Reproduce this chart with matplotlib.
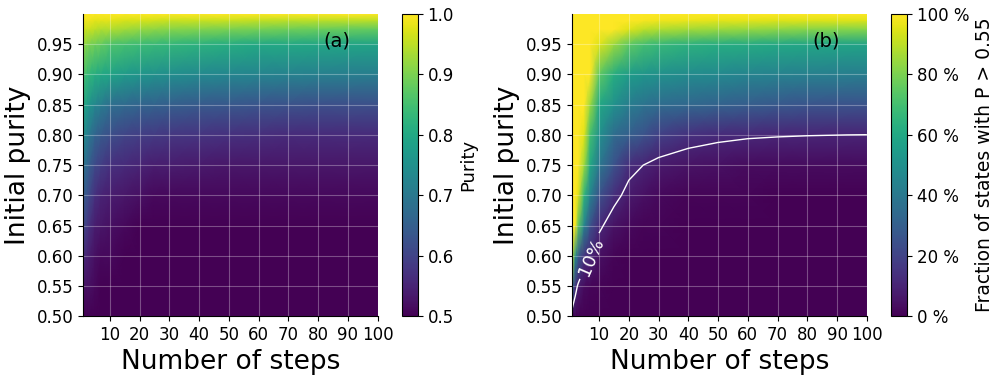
import numpy as np
import matplotlib
matplotlib.use("Agg")
import matplotlib.pyplot as plt

# grid (coarse), rendered with gouraud shading
steps = [1, 2, 3, 5, 7, 10, 15, 20, 25, 30, 40, 50, 60, 70, 80, 100]
init_purity = [0.50, 0.55, 0.60, 0.65, 0.70, 0.75, 0.80, 0.85, 0.90, 0.95, 0.975, 0.99, 1.0]

# panel (a): final purity
purity = [
    [0.50, 0.50, 0.50, 0.50, 0.50, 0.50, 0.50, 0.50, 0.50, 0.50, 0.50, 0.50, 0.50, 0.50, 0.50, 0.50],
    [0.53, 0.52, 0.52, 0.51, 0.50, 0.50, 0.50, 0.50, 0.50, 0.50, 0.50, 0.50, 0.50, 0.50, 0.50, 0.50],
    [0.57, 0.55, 0.54, 0.52, 0.51, 0.51, 0.50, 0.50, 0.50, 0.50, 0.50, 0.50, 0.50, 0.50, 0.50, 0.50],
    [0.61, 0.59, 0.57, 0.54, 0.53, 0.52, 0.51, 0.50, 0.50, 0.50, 0.50, 0.50, 0.50, 0.50, 0.50, 0.50],
    [0.65, 0.63, 0.61, 0.57, 0.55, 0.54, 0.53, 0.52, 0.51, 0.51, 0.51, 0.51, 0.51, 0.51, 0.51, 0.51],
    [0.70, 0.67, 0.65, 0.61, 0.59, 0.57, 0.56, 0.55, 0.54, 0.54, 0.535, 0.53, 0.53, 0.53, 0.53, 0.53],
    [0.76, 0.72, 0.70, 0.66, 0.64, 0.62, 0.60, 0.59, 0.585, 0.58, 0.575, 0.57, 0.565, 0.56, 0.56, 0.56],
    [0.80, 0.78, 0.76, 0.73, 0.71, 0.68, 0.67, 0.66, 0.655, 0.65, 0.64, 0.635, 0.63, 0.625, 0.62, 0.62],
    [0.86, 0.84, 0.83, 0.81, 0.80, 0.79, 0.77, 0.76, 0.75, 0.745, 0.735, 0.73, 0.725, 0.72, 0.715, 0.71],
    [0.92, 0.91, 0.90, 0.89, 0.88, 0.86, 0.85, 0.84, 0.835, 0.83, 0.82, 0.81, 0.80, 0.80, 0.795, 0.79],
    [0.97, 0.96, 0.96, 0.95, 0.94, 0.94, 0.93, 0.92, 0.915, 0.91, 0.905, 0.90, 0.895, 0.89, 0.885, 0.88],
    [0.99, 0.99, 0.99, 0.98, 0.98, 0.98, 0.97, 0.97, 0.965, 0.96, 0.96, 0.96, 0.955, 0.95, 0.95, 0.95],
    [1.00, 1.00, 1.00, 1.00, 1.00, 1.00, 1.00, 1.00, 1.00, 1.00, 1.00, 1.00, 1.00, 1.00, 1.00, 1.00],
]

# panel (b): fraction of states with P > 0.55, in %
fraction = [
    [0, 0, 0, 0, 0, 0, 0, 0, 0, 0, 0, 0, 0, 0, 0, 0],
    [38, 15, 8, 3, 1.5, 1, 0, 0, 0, 0, 0, 0, 0, 0, 0, 0],
    [90, 50, 30, 15, 11, 4, 1, 0, 0, 0, 0, 0, 0, 0, 0, 0],
    [100, 100, 75, 45, 25, 12, 5, 2, 1, 1, 0, 0, 0, 0, 0, 0],
    [100, 100, 95, 65, 45, 25, 13, 7, 4, 2, 1, 1, 1, 0, 0, 0],
    [100, 100, 100, 85, 60, 40, 25, 13, 9.9, 7, 5, 4, 3, 3, 3, 3],
    [100, 100, 100, 95, 70, 50, 35, 30, 25, 19, 14, 12, 11, 10.5, 10.2, 9.9],
    [100, 100, 100, 100, 85, 60, 50, 42, 38, 35, 33, 31, 29, 27, 26, 25],
    [100, 100, 100, 100, 100, 75, 62, 55, 52, 50, 48, 47, 45, 44, 43, 42],
    [100, 100, 100, 100, 100, 95, 85, 75, 70, 67, 64, 62, 61, 60, 59, 58],
    [100, 100, 100, 100, 100, 100, 100, 95, 90, 88, 86, 85, 84, 83, 82, 82],
    [100, 100, 100, 100, 100, 100, 100, 100, 99, 98, 97, 96, 96, 95, 95, 95],
    [100, 100, 100, 100, 100, 100, 100, 100, 100, 100, 100, 100, 100, 100, 100, 100],
]

fig = plt.figure(figsize=(9.97, 3.8), dpi=100)
ax1 = fig.add_axes([0.0833, 0.168, 0.2955, 0.795])
cax1 = fig.add_axes([0.403, 0.168, 0.016, 0.795])
ax2 = fig.add_axes([0.574, 0.168, 0.2955, 0.795])
cax2 = fig.add_axes([0.894, 0.168, 0.016, 0.795])

X, Y = np.meshgrid(steps, init_purity)

m1 = ax1.pcolormesh(X, Y, np.array(purity), shading="gouraud", cmap="viridis", vmin=0.5, vmax=1.0)
m2 = ax2.pcolormesh(X, Y, np.array(fraction), shading="gouraud", cmap="viridis", vmin=0, vmax=100)

cs = ax2.contour(X, Y, np.array(fraction), levels=[10], colors="white", linewidths=1)
ax2.clabel(cs, fmt={10: "10%"}, fontsize=13, manual=[(6.5, 0.6)])

for ax, tag in [(ax1, "(a)"), (ax2, "(b)")]:
    ax.set_xlim(1, 100)
    ax.set_ylim(0.5, 1.0)
    ax.set_xticks(range(10, 101, 10))
    ax.set_yticks(np.arange(0.5, 0.951, 0.05))
    ax.set_yticklabels(["%.2f" % v for v in np.arange(0.5, 0.951, 0.05)])
    ax.tick_params(labelsize=12)
    ax.grid(True, color="white", alpha=0.3, linewidth=0.8)
    ax.spines["top"].set_visible(False)
    ax.spines["right"].set_visible(False)
    ax.set_xlabel("Number of steps", fontsize=19)
    ax.set_ylabel("Initial purity", fontsize=19)
    ax.text(0.86, 0.91, tag, transform=ax.transAxes, fontsize=14, ha="center", va="center")

cb1 = fig.colorbar(m1, cax=cax1)
cb1.set_ticks([0.5, 0.6, 0.7, 0.8, 0.9, 1.0])
cb1.ax.tick_params(labelsize=12)
cb1.set_label("Purity", fontsize=13)

cb2 = fig.colorbar(m2, cax=cax2)
cb2.set_ticks([0, 20, 40, 60, 80, 100])
cb2.set_ticklabels(["0 %", "20 %", "40 %", "60 %", "80 %", "100 %"])
cb2.ax.tick_params(labelsize=12)
cb2.set_label("Fraction of states with P > 0.55", fontsize=13.5)

fig.savefig("out.png", dpi=100)
